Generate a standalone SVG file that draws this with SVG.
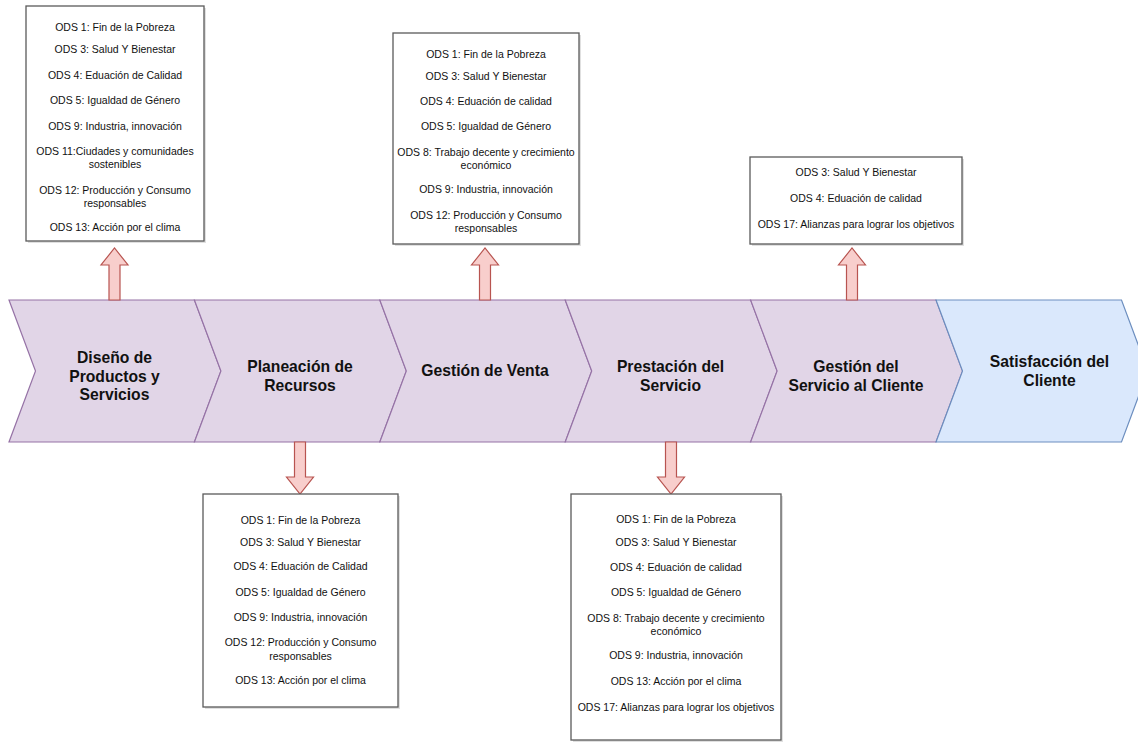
<svg xmlns="http://www.w3.org/2000/svg" width="1138" height="742" viewBox="0 0 1138 742">
<style>
.step{fill:#e1d5e7;stroke:#9673a6;stroke-width:1.2}
.step2{fill:#dae8fc;stroke:#6c8ebf;stroke-width:1.2}
.st{font-family:"Liberation Sans",Arial,sans-serif;font-size:15.7px;font-weight:bold;fill:#111;text-anchor:middle}
.box{fill:#fff;stroke:#5a5a5a;stroke-width:1.3}
.shadow{fill:#000;opacity:0.12}
.bt{font-family:"Liberation Sans",Arial,sans-serif;font-size:10.5px;fill:#111;text-anchor:middle}
.arr{fill:#f8cecc;stroke:#b85450;stroke-width:1.2}
</style>
<rect width="1138" height="742" fill="#fff"/>
<g id="steps">
<g id="step1"><polygon class="step" points="9,300 194.5,300 221,371 194.5,442 9,442 35.5,371"/>
<text class="st"><tspan x="114.5" y="362.5">Diseño de</tspan><tspan x="114.5" y="381.5">Productos y</tspan><tspan x="114.5" y="400">Servicios</tspan></text></g>
<g id="step2"><polygon class="step" points="194.4,300 379.9,300 406.4,371 379.9,442 194.4,442 220.9,371"/>
<text class="st"><tspan x="300" y="371.5">Planeación de</tspan><tspan x="300" y="390.5">Recursos</tspan></text></g>
<g id="step3"><polygon class="step" points="379.8,300 565.3,300 591.8,371 565.3,442 379.8,442 406.3,371"/>
<text class="st" x="485" y="376">Gestión de Venta</text></g>
<g id="step4"><polygon class="step" points="565.2,300 750.7,300 777.2,371 750.7,442 565.2,442 591.7,371"/>
<text class="st"><tspan x="670.5" y="371.5">Prestación del</tspan><tspan x="670.5" y="390.5">Servicio</tspan></text></g>
<g id="step5"><polygon class="step" points="750.6,300 936.1,300 962.6,371 936.1,442 750.6,442 777.1,371"/>
<text class="st"><tspan x="856" y="371.5">Gestión del</tspan><tspan x="856" y="390.5">Servicio al Cliente</tspan></text></g>
<g id="step6"><polygon class="step2" points="936,300 1121.5,300 1148,371 1121.5,442 936,442 962.5,371"/>
<text class="st"><tspan x="1049.5" y="366.5">Satisfacción del</tspan><tspan x="1049.5" y="385.5">Cliente</tspan></text></g>
</g>
<g id="connectors">
<polygon class="arr" points="109,300 109,265 101,265 114.5,248 128,265 120,265 120,300"/>
<polygon class="arr" points="479.5,300 479.5,265 471.5,265 485,248 498.5,265 490.5,265 490.5,300"/>
<polygon class="arr" points="846.5,300 846.5,265 838.5,265 852,248 865.5,265 857.5,265 857.5,300"/>
<polygon class="arr" points="294.5,442 294.5,477 286.5,477 300,494 313.5,477 305.5,477 305.5,442"/>
<polygon class="arr" points="665.5,442 665.5,477 657.5,477 671,494 684.5,477 676.5,477 676.5,442"/>
</g>
<g id="box1">
<rect class="shadow" x="28" y="8" width="178" height="235"/>
<rect class="box" x="26" y="6" width="178" height="235"/>
<text class="bt"><tspan x="115" y="30.5">ODS 1: Fin de la Pobreza</tspan><tspan x="115" y="52.5">ODS 3: Salud Y Bienestar</tspan><tspan x="115" y="78.5">ODS 4: Eduación de Calidad</tspan><tspan x="115" y="103.5">ODS 5: Igualdad de Género</tspan><tspan x="115" y="129.5">ODS 9: Industria, innovación</tspan><tspan x="115" y="154.5">ODS 11:Ciudades y comunidades</tspan><tspan x="115" y="167.5">sostenibles</tspan><tspan x="115" y="193.5">ODS 12: Producción y Consumo</tspan><tspan x="115" y="206.5">responsables</tspan><tspan x="115" y="230.5">ODS 13: Acción por el clima</tspan></text>
</g>
<g id="box2">
<rect class="shadow" x="395" y="35" width="186" height="211"/>
<rect class="box" x="393" y="33" width="186" height="211"/>
<text class="bt"><tspan x="486" y="58">ODS 1: Fin de la Pobreza</tspan><tspan x="486" y="80">ODS 3: Salud Y Bienestar</tspan><tspan x="486" y="105">ODS 4: Eduación de calidad</tspan><tspan x="486" y="130">ODS 5: Igualdad de Género</tspan><tspan x="486" y="156">ODS 8: Trabajo decente y crecimiento</tspan><tspan x="486" y="169">económico</tspan><tspan x="486" y="193">ODS 9: Industria, innovación</tspan><tspan x="486" y="218.5">ODS 12: Producción y Consumo</tspan><tspan x="486" y="231.5">responsables</tspan></text>
</g>
<g id="box3">
<rect class="shadow" x="752" y="159" width="212" height="87"/>
<rect class="box" x="750" y="157" width="212" height="87"/>
<text class="bt"><tspan x="856" y="176">ODS 3: Salud Y Bienestar</tspan><tspan x="856" y="202">ODS 4: Eduación de calidad</tspan><tspan x="856" y="227.5">ODS 17: Alianzas para lograr los objetivos</tspan></text>
</g>
<g id="box4">
<rect class="shadow" x="205" y="496" width="195" height="213"/>
<rect class="box" x="203" y="494" width="195" height="213"/>
<text class="bt"><tspan x="300.5" y="523.5">ODS 1: Fin de la Pobreza</tspan><tspan x="300.5" y="545.5">ODS 3: Salud Y Bienestar</tspan><tspan x="300.5" y="570">ODS 4: Eduación de Calidad</tspan><tspan x="300.5" y="596">ODS 5: Igualdad de Género</tspan><tspan x="300.5" y="620.5">ODS 9: Industria, innovación</tspan><tspan x="300.5" y="645.5">ODS 12: Producción y Consumo</tspan><tspan x="300.5" y="659.5">responsables</tspan><tspan x="300.5" y="684">ODS 13: Acción por el clima</tspan></text>
</g>
<g id="box5">
<rect class="shadow" x="573" y="496" width="210" height="246"/>
<rect class="box" x="571" y="494" width="210" height="246"/>
<text class="bt"><tspan x="676" y="523">ODS 1: Fin de la Pobreza</tspan><tspan x="676" y="545.5">ODS 3: Salud Y Bienestar</tspan><tspan x="676" y="570.5">ODS 4: Eduación de calidad</tspan><tspan x="676" y="596">ODS 5: Igualdad de Género</tspan><tspan x="676" y="621.5">ODS 8: Trabajo decente y crecimiento</tspan><tspan x="676" y="634.5">económico</tspan><tspan x="676" y="659">ODS 9: Industria, innovación</tspan><tspan x="676" y="684.5">ODS 13: Acción por el clima</tspan><tspan x="676" y="710.5">ODS 17: Alianzas para lograr los objetivos</tspan></text>
</g>
</svg>
